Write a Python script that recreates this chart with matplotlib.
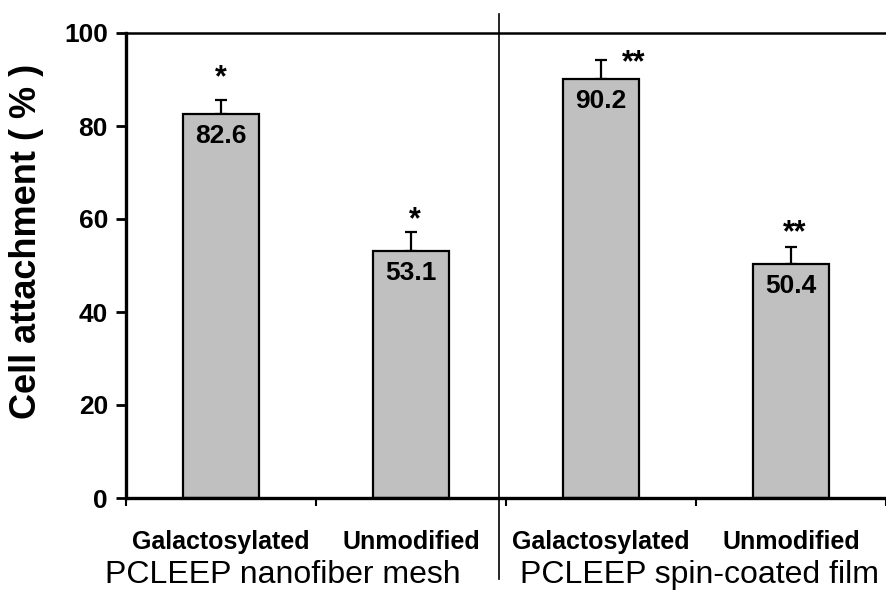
import matplotlib
matplotlib.use("Agg")
import matplotlib.pyplot as plt

# data
categories = ["Galactosylated", "Unmodified", "Galactosylated", "Unmodified"]
groups = ["PCLEEP nanofiber mesh", "PCLEEP spin-coated film"]
values = [82.6, 53.1, 90.2, 50.4]
errors = [3.0, 4.1, 4.1, 3.6]
stars = ["*", "*", "**", "**"]

# annotation placement (data coords)
STAR_X = [0.0, 1.02, 2.17, 3.02]
STAR_Y = [90.3, 59.8, 93.5, 57.0]

BAR_FILL = "#c0c0c0"
INK = "black"
plt.rcParams["font.family"] = ["Liberation Sans", "DejaVu Sans"]

W, H = 886, 592
fig = plt.figure(figsize=(W / 100, H / 100), dpi=100)
ax = fig.add_axes([126 / W, 1 - 498 / H, (W - 126) / W, (498 - 33) / H])

x = list(range(len(values)))
ax.bar(x, values, width=0.4, color=BAR_FILL, edgecolor=INK, linewidth=1.6, zorder=2)
ax.errorbar(x, values, yerr=[[0] * len(errors), errors], fmt="none",
            ecolor=INK, elinewidth=1.6, capsize=4, capthick=1.6, zorder=1)

for xi, v in zip(x, values):
    ax.annotate(f"{v:.1f}", (xi, v), xytext=(0, -16), textcoords="offset points",
                ha="center", va="center", fontsize=19, fontweight="bold")
for sx, sy, s in zip(STAR_X, STAR_Y, stars):
    ax.text(sx, sy, s, ha="center", va="center", fontsize=22, fontweight="bold")

ax.set_xlim(-0.5, -0.5 + (W - 126) / 193)
ax.set_ylim(0, 100)
ax.set_yticks(range(0, 101, 20))
ax.tick_params(axis="y", direction="out", length=7, width=2, pad=6,
               labelsize=19)
for lab in ax.get_yticklabels():
    lab.set_fontweight("bold")

# boundary ticks (major) and category labels (minor)
ax.set_xticks([-0.5, 0.5, 1.5, 2.5, 3.5])
ax.set_xticklabels([])
ax.tick_params(axis="x", which="major", direction="out", length=6, width=1.5)
ax.set_xticks(x, minor=True)
ax.set_xticklabels(categories, minor=True, fontsize=18, fontweight="bold")
ax.tick_params(axis="x", which="minor", length=0, pad=23)

ax.spines["right"].set_visible(False)
ax.spines["left"].set_linewidth(2.4)
ax.spines["bottom"].set_linewidth(2.4)
ax.spines["top"].set_linewidth(1.8)

# group divider
ax.plot([1.465, 1.465], [-0.174, 1.041], color=INK, linewidth=1.2,
        transform=ax.get_xaxis_transform(), clip_on=False)

fig.text(105 / W, 1 - 583 / H, groups[0], fontsize=23, ha="left", va="baseline")
fig.text(520 / W, 1 - 583 / H, groups[1], fontsize=23, ha="left", va="baseline")
fig.text(27 / W, 1 - 241 / H, "Cell attachment ( % )", rotation=90,
         fontsize=26, fontweight="bold", ha="center", va="center")

fig.savefig("out.png", dpi=100, facecolor="white")
